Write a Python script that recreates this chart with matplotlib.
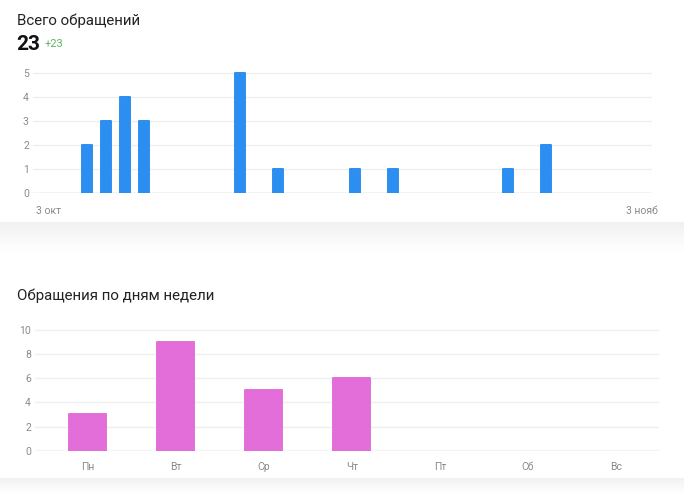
import numpy as np
import matplotlib.pyplot as plt
from matplotlib.colors import LinearSegmentedColormap

plt.rcParams['font.family'] = ['Roboto', 'DejaVu Sans']

# daily counts (Oct 2020)
dates = ['2020-10-05', '2020-10-06', '2020-10-07', '2020-10-08', '2020-10-13',
         '2020-10-15', '2020-10-19', '2020-10-21', '2020-10-27', '2020-10-29']
counts = [2, 3, 4, 3, 5, 1, 1, 1, 1, 2]
start = '2020-10-03'
end = '2020-11-03'
date_labels = ['3 окт', '3 нояб']

# by weekday
days = ['Пн', 'Вт', 'Ср', 'Чт', 'Пт', 'Сб', 'Вс']
day_counts = [3, 9, 5, 6, 0, 0, 0]

total = 23
delta = '+23'

blue = '#2b8ef0'
pink = '#e46ed9'
grid = '#eeeeee'
tick_col = '#8a8a8a'

W, H = 684, 494
fig = plt.figure(figsize=(W / 100, H / 100), dpi=100)
fig.patch.set_facecolor('white')


def box(l, r, top, bottom):
    return [l / W, 1 - bottom / H, (r - l) / W, (bottom - top) / H]


def style(ax):
    for s in ax.spines.values():
        s.set_visible(False)
    ax.yaxis.grid(True, color=grid, lw=0.9)
    ax.set_axisbelow(True)
    ax.axhline(0, color='#cfcfcf', lw=1.0, zorder=1)
    ax.tick_params(length=0, colors=tick_col, labelsize=7.5)
    ax.tick_params(axis='y', pad=3)


def rounded_bars(ax, xs, ys, width, color):
    bars = ax.bar(xs, ys, width=width, color=color, edgecolor=color, lw=1.4,
                  joinstyle='round', zorder=2)
    for b, v in zip(bars, ys):
        if v == 0:
            b.set_visible(False)


# gray separator bands
cmap = LinearSegmentedColormap.from_list('g', ['#f1f1f1', '#ffffff'])
for t, b in [(222, 252), (478, 494)]:
    bg = fig.add_axes(box(0, W, t, b))
    bg.imshow(np.linspace(0, 1, 50).reshape(-1, 1), aspect='auto', cmap=cmap,
              extent=[0, 1, 0, 1])
    bg.axis('off')

# top chart
x = (np.array(dates, dtype='datetime64[D]') - np.datetime64(start)).astype(int)
x_end = (np.datetime64(end) - np.datetime64(start)).astype(int)

ax1 = fig.add_axes(box(33, 652, 193 - 5.2 * 24, 193))
style(ax1)
rounded_bars(ax1, x, counts, 0.52, blue)
ax1.set_xlim(-0.82, 31.55)
ax1.set_ylim(0, 5.2)
ax1.set_yticks(range(0, 6))
ax1.set_xticks([0, x_end])
ax1.set_xticklabels(date_labels)
ax1.tick_params(axis='x', pad=9)

fig.text(17 / W, 1 - 21 / H, 'Всего обращений', fontsize=10.8, color='#222222', va='center')
fig.text(16 / W, 1 - 44 / H, str(total), fontsize=15, fontweight='bold', color='#111111', va='center')
fig.text(45 / W, 1 - 44 / H, delta, fontsize=8, color='#62b462', va='center')

# bottom chart
ax2 = fig.add_axes(box(35, 659, 450.7 - 10.4 * 12.07, 450.7))
style(ax2)
rounded_bars(ax2, range(len(days)), day_counts, 0.42, pink)
ax2.set_xlim(-0.6, 6.49)
ax2.set_ylim(0, 10.4)
ax2.set_yticks(range(0, 11, 2))
ax2.set_xticks(range(len(days)))
ax2.set_xticklabels(days)
ax2.tick_params(axis='x', pad=8)

fig.text(17 / W, 1 - 296 / H, 'Обращения по дням недели', fontsize=10.8, color='#222222', va='center')

fig.savefig('out.png', dpi=100)
